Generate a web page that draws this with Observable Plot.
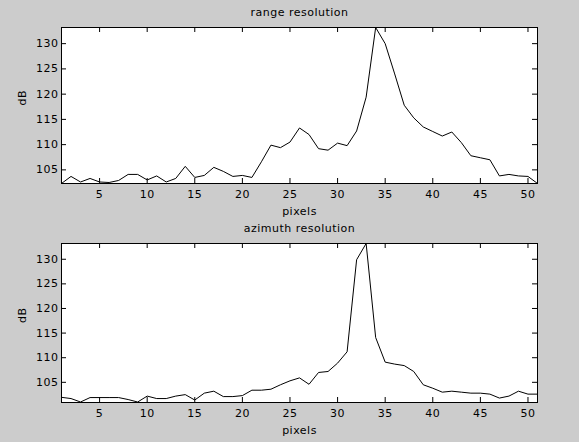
<!DOCTYPE html>
<html>
<head>
<meta charset="utf-8">
<script src="https://cdn.jsdelivr.net/npm/d3@7"></script>
<script src="https://cdn.jsdelivr.net/npm/@observablehq/plot@0.6"></script>
<style>
  html, body { margin: 0; padding: 0; background: #cccccc; }
  #fig { position: relative; width: 579px; height: 442px; background: #cccccc; overflow: hidden; }
  #fig svg { position: absolute; left: 0; background: transparent; }
  #fig svg text { letter-spacing: 0.5px; }
</style>
</head>
<body>
<div id="fig"></div>
<script>
// pixel index 1..51
const pixels = d3.range(1, 52);

const rangeDB = [
  102.3, 103.7, 102.6, 103.3, 102.6, 102.5, 102.9, 104.1, 104.1, 103.0,
  103.8, 102.6, 103.3, 105.7, 103.5, 103.9, 105.5, 104.7, 103.7, 103.9,
  103.5, 106.6, 109.9, 109.4, 110.5, 113.3, 112.0, 109.2, 108.9, 110.3,
  109.8, 112.7, 119.4, 133.2, 130.0, 124.0, 117.8, 115.3, 113.5, 112.6,
  111.7, 112.5, 110.4, 107.8, 107.4, 107.0, 103.8, 104.1, 103.8, 103.7,
  102.3
];

const azimuthDB = [
  101.95, 101.7, 101.0, 101.9, 101.9, 101.9, 101.9, 101.5, 101.0, 102.2,
  101.7, 101.7, 102.2, 102.5, 101.4, 102.8, 103.2, 102.1, 102.1, 102.3,
  103.4, 103.4, 103.6, 104.5, 105.3, 105.9, 104.6, 107.0, 107.2, 108.9,
  111.2, 129.9, 133.2, 114.1, 109.1, 108.7, 108.4, 107.2, 104.5, 103.8,
  103.0, 103.2, 103.0, 102.8, 102.8, 102.6, 101.8, 102.2, 103.2, 102.6,
  102.6
];

const xTicks = [5, 10, 15, 20, 25, 30, 35, 40, 45, 50];
const yTicks = [105, 110, 115, 120, 125, 130];

const titles = ["range resolution", "azimuth resolution"];
const xLabel = "pixels";
const yLabel = "dB";

const FONT = "'DejaVu Sans', 'Liberation Sans', Arial, sans-serif";

function panel(values, title, yDomain, opts) {
  const data = pixels.map((p, i) => ({ p, v: values[i] }));
  const W = 579, H = opts.height;
  const plotH = H - opts.marginTop - opts.marginBottom;
  const plotW = W - 61 - 42;
  const tl = 5;
  return Plot.plot({
    width: W,
    height: H,
    marginLeft: 61,
    marginRight: 42,
    marginTop: opts.marginTop,
    marginBottom: opts.marginBottom,
    style: { fontFamily: FONT, fontSize: "11px", color: "black", background: "transparent" },
    x: { domain: [1, 51] },
    y: { domain: yDomain },
    marks: [
      Plot.rect([0], { x1: 1, x2: 51, y1: yDomain[0], y2: yDomain[1], fill: "white" }),
      Plot.line(data, { x: "p", y: "v", stroke: "black", strokeWidth: 1 }),
      Plot.frame({ stroke: "black", strokeWidth: 1 }),
      // inward ticks, bottom and top
      Plot.tickX(xTicks, { x: d => d, stroke: "black", insetTop: plotH - tl }),
      Plot.tickX(xTicks, { x: d => d, stroke: "black", insetBottom: plotH - tl }),
      // inward ticks, left and right
      Plot.tickY(yTicks, { y: d => d, stroke: "black", insetRight: plotW - tl }),
      Plot.tickY(yTicks, { y: d => d, stroke: "black", insetLeft: plotW - tl }),
      Plot.axisX(xTicks, { tickSize: 0, tickPadding: 7, label: null, fontSize: 11 }),
      Plot.axisY(yTicks, { tickSize: 0, tickPadding: 3, label: null, fontSize: 11 }),
      Plot.text([title], { frameAnchor: "top", lineAnchor: "middle", dy: -15, fontSize: 11, fill: "black" }),
      Plot.text([xLabel], { frameAnchor: "bottom", lineAnchor: "middle", dy: opts.xLabelDy, fontSize: 11, fill: "black" }),
      Plot.text([yLabel], { frameAnchor: "left", lineAnchor: "middle", dx: -39, rotate: -90, fontSize: 11, fill: "black" })
    ]
  });
}

const fig = document.getElementById("fig");
const top1 = panel(rangeDB, titles[0], [102.3, 133.2], { height: 221, marginTop: 27, marginBottom: 38, xLabelDy: 28 });
top1.style.top = "0px";
fig.appendChild(top1);
const bot = panel(azimuthDB, titles[1], [100.9, 133.2], { height: 221, marginTop: 22, marginBottom: 40, xLabelDy: 28 });
bot.style.top = "221px";
fig.appendChild(bot);
</script>
</body>
</html>
